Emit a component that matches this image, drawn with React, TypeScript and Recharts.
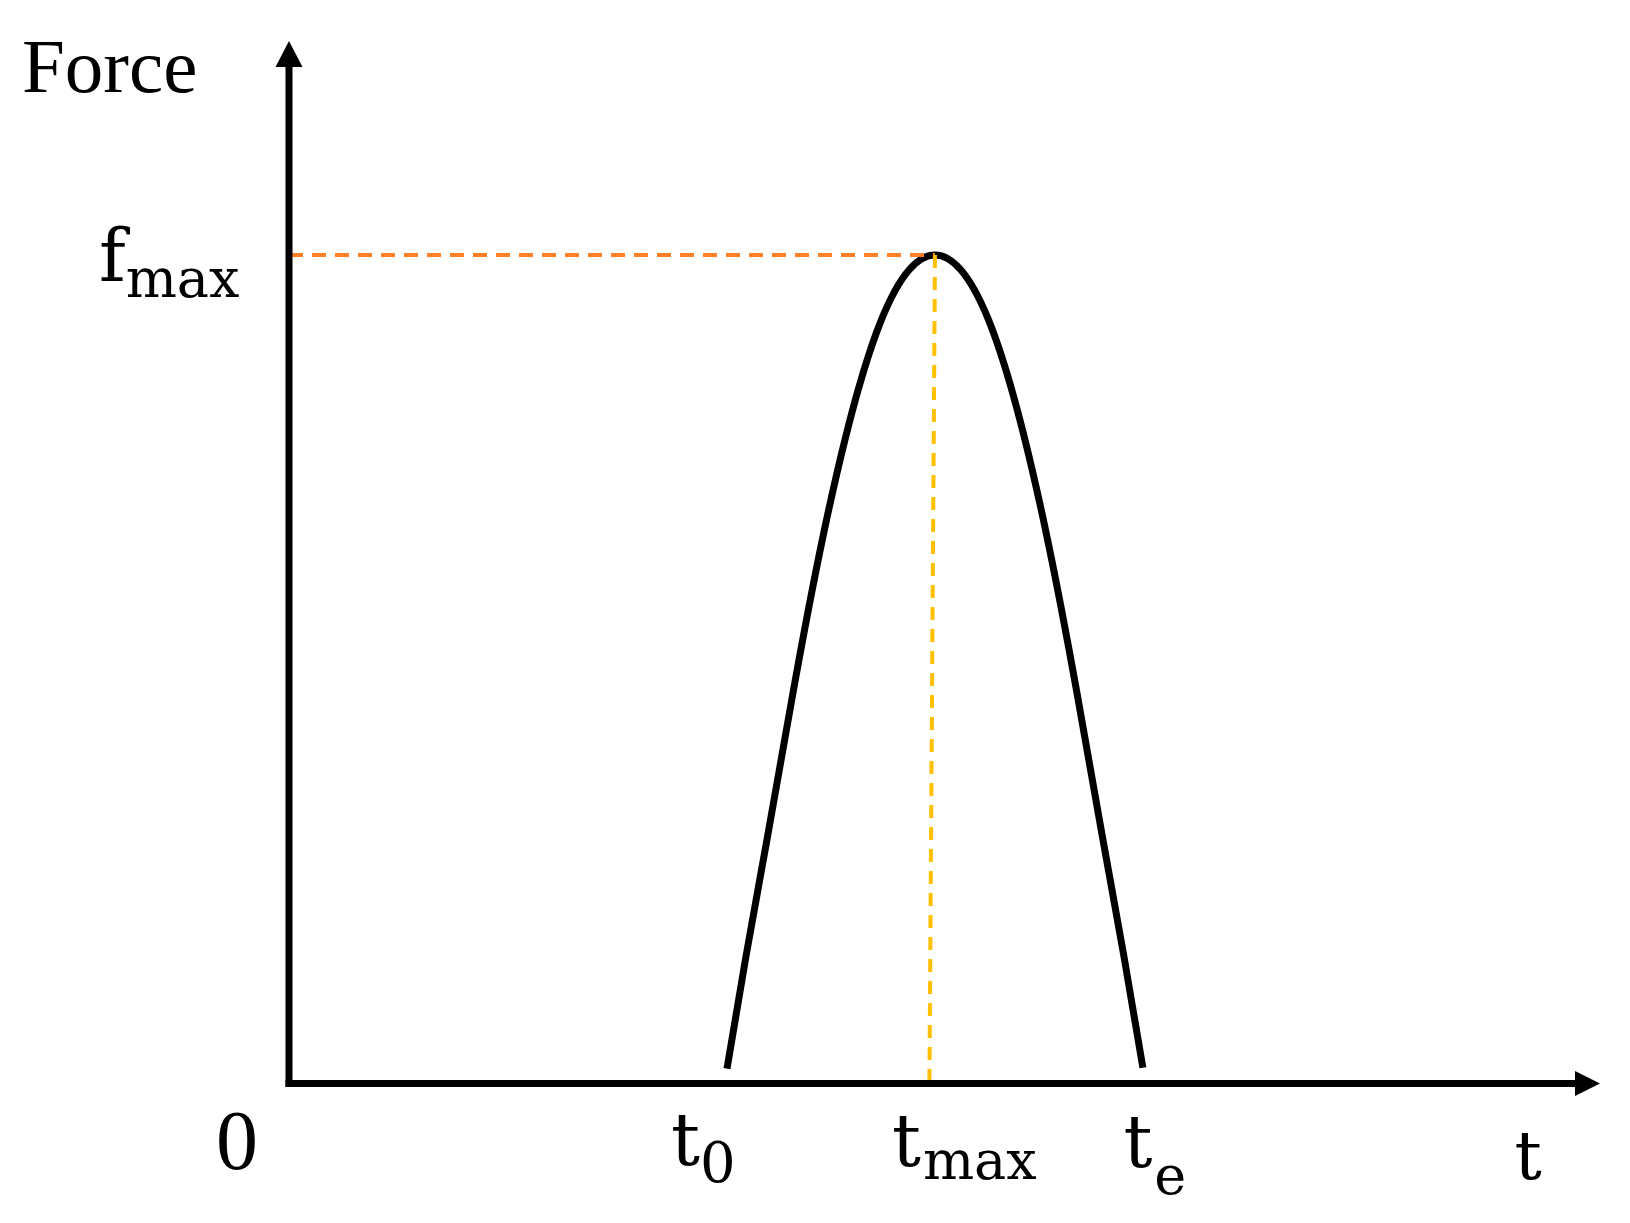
import React from "react";
import { Line, LineChart, XAxis, YAxis, ReferenceLine, ReferenceDot, Label } from "recharts";

// force pulse, t in arbitrary units (0..100 along the axis), f relative to f_max = 100
const T_VALUES = [34.06, 35.53, 37.21, 39.23, 41.52, 43.23, 46.07, 48.21, 50.23, 52.25, 54.39, 57.23, 58.94, 61.23, 63.25, 64.93, 66.4];
const F_VALUES = [1.8, 15.3, 29.8, 47.5, 66.0, 77.7, 92.2, 98.2, 100, 98.2, 92.2, 77.7, 66.0, 47.5, 29.8, 15.3, 1.9];

const T0 = 34.06;
const T_MAX = 50.23;
const T_MAX_FOOT = 49.8;
const T_E = 66.4;
const T_END = 100;
const F_MAX = 100;
const F_TOP = 122.7;

const X_TICKS = [0, T0, T_MAX, T_E, T_END];
const X_TICK_MAIN = ["0", "t", "t", "t", "t"];
const X_TICK_SUB = ["", "0", "max", "e", ""];

const Y_TICKS = [F_MAX];
const Y_TICK_MAIN = ["f"];
const Y_TICK_SUB = ["max"];

const data = T_VALUES.map((t, i) => ({ t, f: F_VALUES[i] }));

const TIMES = "'Liberation Serif', 'Times New Roman', serif";
const MATH = "'DejaVu Serif', serif";

// natural cubic spline y(x) through the points, drawn as bezier segments
function smoothX(context: any) {
  let xs: number[] = [];
  let ys: number[] = [];
  let inArea = false;
  const flush = () => {
    const n = xs.length;
    if (!n) return;
    context.moveTo(xs[0], ys[0]);
    if (n < 3) {
      for (let i = 1; i < n; i++) context.lineTo(xs[i], ys[i]);
      return;
    }
    const h: number[] = [];
    for (let i = 0; i < n - 1; i++) h.push(xs[i + 1] - xs[i]);
    // tridiagonal solve for second derivatives, natural ends
    const m = new Array(n).fill(0);
    const a: number[] = [], b: number[] = [], c: number[] = [], r: number[] = [];
    for (let i = 1; i < n - 1; i++) {
      a.push(h[i - 1]);
      b.push(2 * (h[i - 1] + h[i]));
      c.push(h[i]);
      r.push(6 * ((ys[i + 1] - ys[i]) / h[i] - (ys[i] - ys[i - 1]) / h[i - 1]));
    }
    const k = b.length;
    for (let i = 1; i < k; i++) {
      const w = a[i] / b[i - 1];
      b[i] -= w * c[i - 1];
      r[i] -= w * r[i - 1];
    }
    const sol = new Array(k).fill(0);
    sol[k - 1] = r[k - 1] / b[k - 1];
    for (let i = k - 2; i >= 0; i--) sol[i] = (r[i] - c[i] * sol[i + 1]) / b[i];
    for (let i = 0; i < k; i++) m[i + 1] = sol[i];
    for (let i = 0; i < n - 1; i++) {
      const hi = h[i];
      const s = (ys[i + 1] - ys[i]) / hi;
      const d0 = s - (hi * (2 * m[i] + m[i + 1])) / 6;
      const d1 = s + (hi * (m[i] + 2 * m[i + 1])) / 6;
      context.bezierCurveTo(
        xs[i] + hi / 3,
        ys[i] + (d0 * hi) / 3,
        xs[i + 1] - hi / 3,
        ys[i + 1] - (d1 * hi) / 3,
        xs[i + 1],
        ys[i + 1]
      );
    }
  };
  return {
    areaStart() { inArea = true; },
    areaEnd() { inArea = false; },
    lineStart() { xs = []; ys = []; },
    lineEnd() { flush(); if (inArea) context.closePath(); },
    point(x: number, y: number) { xs.push(+x); ys.push(+y); },
  };
}

// per-label placement relative to the tick position
const X_TICK_STYLE = [
  { font: TIMES, size: 84, subSize: 0, dx: -73, dy: 83, subDx: 0, subDy: 0 },
  { font: MATH, size: 72, subSize: 56, dx: -56, dy: 79.5, subDx: 0, subDy: 17 },
  { font: MATH, size: 72, subSize: 54, dx: -43, dy: 80, subDx: 2, subDy: 13 },
  { font: MATH, size: 72, subSize: 54, dx: -19.5, dy: 81, subDx: 2, subDy: 27 },
  { font: MATH, size: 68, subSize: 0, dx: -60.5, dy: 93, subDx: 0, subDy: 0 },
];

const SubLabel = ({ x, y, main, sub, s }: any) => (
  <text x={x + s.dx} y={y + s.dy} fill="#000" fontFamily={s.font} fontSize={s.size}>
    <tspan>{main}</tspan>
    {sub ? (
      <tspan dx={s.subDx} dy={s.subDy} fontSize={s.subSize}>
        {sub}
      </tspan>
    ) : null}
  </text>
);

const XTick = (props: any) => {
  const i = X_TICKS.indexOf(props.payload.value);
  if (i < 0) return null;
  return <SubLabel x={props.x} y={props.y} main={X_TICK_MAIN[i]} sub={X_TICK_SUB[i]} s={X_TICK_STYLE[i]} />;
};

const YTick = (props: any) => {
  const i = Y_TICKS.indexOf(props.payload.value);
  if (i < 0) return null;
  const s = { font: MATH, size: 72, subSize: 54, dx: -188, dy: 26, subDx: 0, subDy: 16 };
  return <SubLabel x={props.x} y={props.y} main={Y_TICK_MAIN[i]} sub={Y_TICK_SUB[i]} s={s} />;
};

const RightArrow = ({ cx, cy }: any) => (
  <polygon points={`${cx},${cy - 12.5} ${cx + 25},${cy} ${cx},${cy + 12.5}`} fill="#000" />
);

const UpArrow = ({ cx, cy }: any) => (
  <polygon points={`${cx - 13.5},${cy} ${cx},${cy - 26} ${cx + 13.5},${cy}`} fill="#000" />
);

const axisStyle = { stroke: "#000", strokeWidth: 7, strokeLinecap: "square" as const };

export default function App() {
  return (
    <div style={{ position: "absolute", left: 0, top: 0, width: 1630, height: 1223, background: "#fff" }}>
      <LineChart width={1630} height={1223} data={data} margin={{ top: 67, right: 55, left: 0, bottom: 0 }}>
        <XAxis
          dataKey="t"
          type="number"
          domain={[0, T_END]}
          ticks={X_TICKS}
          tick={<XTick />}
          tickLine={false}
          tickSize={0}
          axisLine={axisStyle}
          height={139.5}
          interval={0}
        />
        <YAxis
          type="number"
          domain={[0, F_TOP]}
          ticks={Y_TICKS}
          tick={<YTick />}
          tickLine={false}
          tickSize={0}
          axisLine={axisStyle}
          width={289}
          interval={0}
        >
          <Label
            content={({ viewBox }: any) => (
              <text x={viewBox.x + 22} y={viewBox.y + 25} fill="#000" fontFamily={TIMES} fontSize={77}>
                Force
              </text>
            )}
          />
        </YAxis>
        <Line
          type={smoothX as any}
          dataKey="f"
          stroke="#000"
          strokeWidth={7}
          dot={false}
          activeDot={false}
          isAnimationActive={false}
        />
        <ReferenceLine
          segment={[{ x: 0, y: F_MAX }, { x: T_MAX, y: F_MAX }]}
          stroke="#FF7F27"
          strokeWidth={4}
          strokeDasharray="14 9"
          ifOverflow="visible"
        />
        <ReferenceLine
          segment={[{ x: T_MAX, y: F_MAX }, { x: T_MAX_FOOT, y: 0 }]}
          stroke="#FFC000"
          strokeWidth={4}
          strokeDasharray="13 9"
          ifOverflow="visible"
        />
        <ReferenceDot x={T_END} y={0} r={1} shape={<RightArrow />} ifOverflow="visible" />
        <ReferenceDot x={0} y={F_TOP} r={1} shape={<UpArrow />} ifOverflow="visible" />
      </LineChart>
    </div>
  );
}
